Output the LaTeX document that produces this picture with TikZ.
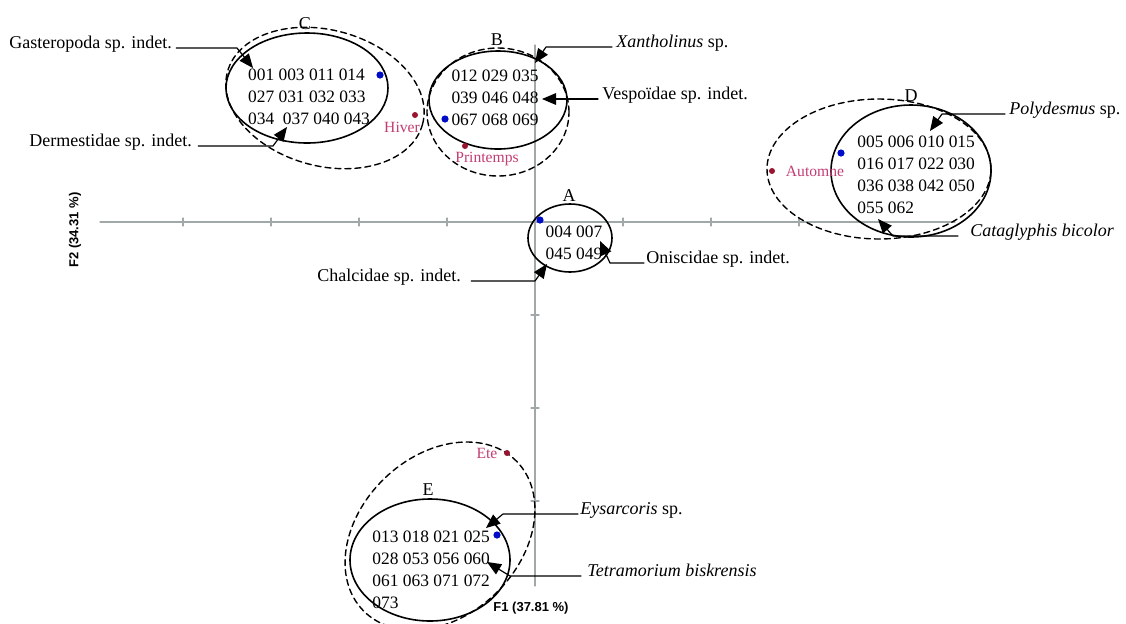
\documentclass[tikz,border=0pt]{standalone}
\usepackage{fontspec}
\setmainfont{Liberation Serif}
\setsansfont{Liberation Sans}
\usetikzlibrary{arrows}

\begin{document}
\begin{tikzpicture}[line cap=round,line join=round,>=triangle 45,x=0.5pt,y=0.5pt,
  axe/.style={color=cqcqcq,line width=0.6pt},
  grp/.style={line width=0.8pt},
  env/.style={line width=0.7pt,dash pattern=on 3pt off 2pt},
  lbl/.style={font=\fontsize{9}{10}\selectfont,inner sep=0pt},
  ids/.style={font=\fontsize{8.7}{11}\selectfont,align=left,inner sep=0pt},
  ssn/.style={font=\fontsize{7.8}{8}\selectfont,color=ccqq66,inner sep=0pt},
  axlbl/.style={font=\sffamily\bfseries\fontsize{6.5}{8}\selectfont,inner sep=0pt},
  fleche/.style={->,line width=0.6pt}]
\definecolor{cqcqcq}{rgb}{0.63,0.66,0.66}
\definecolor{qqqqcc}{rgb}{0.,0.05,0.78}
\definecolor{bfqq33}{rgb}{0.6,0.08,0.18}
\definecolor{ccqq66}{rgb}{0.76,0.24,0.45}
\useasboundingbox (0,0) rectangle (1126,-623);
% axes
\draw[axe] (100,-222) -- (955,-222);
\draw[axe] (535,-45) -- (535,-586);
\foreach \x in {183,271,359,447,623,711,799}
  \draw[axe] (\x,-218) -- (\x,-226);
\foreach \y in {315,408,501}
  \draw[axe] (531,-\y) -- (539,-\y);
\node[axlbl,rotate=90] (ftwo) at (75,-230) {F2 (34.31 \%)};
\node[axlbl] (fone) at (531,-608) {F1 (37.81 \%)};
% groupes
\draw[grp] (307,-88) ellipse (81 and 55);
\draw[env,rotate around={-15:(325,-98)}] (325,-98) ellipse (101 and 68);
\draw[grp] (498,-100) ellipse (69 and 49);
\draw[env] (498,-112) ellipse (71 and 64);
\draw[grp] (911,-171) ellipse (80 and 66);
\draw[env] (879,-169) ellipse (112 and 70);
\draw[grp] (570,-238) ellipse (42 and 34);
\draw[grp] (430,-560) ellipse (80 and 61);
\draw[env,rotate around={44:(440,-536)}] (440,-536) ellipse (107 and 80);
\node[lbl] (lettreC) at (305,-24) {C};
\node[lbl] (lettreB) at (497,-40) {B};
\node[lbl] (lettreD) at (911,-96) {D};
\node[lbl] (lettreA) at (569,-196) {A};
\node[lbl] (lettreE) at (428,-490) {E};
\node[ids] (idsC) at (309,-97) {001 003 011 014\\027 031 032 033\\034\ \ 037 040 043};
\node[ids] (idsB) at (495,-98) {012 029 035\\039 046 048\\067 068 069};
\node[ids,anchor=west] (idsD) at (857,-175) {005 006 010 015\\016 017 022 030\\036 038 042 050\\055 062};
\node[ids] (idsA) at (574,-243) {004 007\\045 049};
\node[ids,anchor=west] (idsE) at (372,-570) {013 018 021 025\\028 053 056 060\\061 063 071 072\\073};
% saisons
\fill[color=qqqqcc] (380,-75) circle (1.8pt);
\fill[color=qqqqcc] (445,-119) circle (1.8pt);
\fill[color=qqqqcc] (841,-153) circle (1.8pt);
\fill[color=qqqqcc] (540,-220) circle (1.8pt);
\fill[color=qqqqcc] (497,-535) circle (1.8pt);
\fill[color=bfqq33] (415,-115) circle (1.5pt);
\fill[color=bfqq33] (465,-146) circle (1.5pt);
\fill[color=bfqq33] (772,-171) circle (1.5pt);
\fill[color=bfqq33] (507,-453) circle (1.5pt);
\node[ssn] (hiver) at (402,-127) {Hiver};
\node[ssn] (printemps) at (487,-159) {Printemps};
\node[ssn] (automne) at (815,-171) {Automne};
\node[ssn] (ete) at (487,-453) {Ete};
% especies
\node[lbl,anchor=base west] (gastero) at (9,-48) {Gasteropoda sp. indet.};
\coordinate (gasteroC) at (237,-48);
\coordinate (gasteroT) at (253,-68);
\draw[fleche] ([xshift=2pt]gastero.base east) -- (gasteroC) -- (gasteroT);
\node[lbl,anchor=base west] (dermest) at (29,-146) {Dermestidae sp. indet.};
\coordinate (dermestC) at (273,-146);
\coordinate (dermestT) at (287,-127);
\draw[fleche] ([xshift=3pt]dermest.base east) -- (dermestC) -- (dermestT);
\node[lbl,anchor=base west] (xantho) at (616,-47) {\textit{Xantholinus} sp.};
\coordinate (xanthoC) at (546,-47);
\coordinate (xanthoT) at (535,-63);
\draw[fleche] ([xshift=-2pt]xantho.base west) -- (xanthoC) -- (xanthoT);
\node[lbl,anchor=base west] (vespo) at (602,-99) {Vespoïdae sp. indet.};
\coordinate (vespoT) at (542,-99);
\draw[fleche] ([xshift=-2pt]vespo.base west) -- (vespoT);
\node[lbl,anchor=base west] (polydes) at (1009,-114) {\textit{Polydesmus} sp.};
\coordinate (polydesC) at (942,-114);
\coordinate (polydesT) at (930,-131);
\draw[fleche] ([xshift=-2pt]polydes.base west) -- (polydesC) -- (polydesT);
\node[lbl,anchor=base west] (catagl) at (970,-236) {\textit{Cataglyphis bicolor}};
\coordinate (cataglC) at (893,-236);
\coordinate (cataglT) at (878,-219);
\draw[fleche] ([xshift=-6pt]catagl.base west) -- (cataglC) -- (cataglT);
\node[lbl,anchor=base west] (onisc) at (646,-263) {Oniscidae sp. indet.};
\coordinate (oniscC) at (610,-263);
\coordinate (oniscT) at (600,-241);
\draw[fleche] ([xshift=-1pt]onisc.base west) -- (oniscC) -- (oniscT);
\node[lbl,anchor=base west] (chalc) at (317,-281) {Chalcidae sp. indet.};
\coordinate (chalcC) at (535,-281);
\coordinate (chalcT) at (547,-264);
\draw[fleche] ([xshift=5pt]chalc.base east) -- (chalcC) -- (chalcT);
\node[lbl,anchor=base west] (eysarc) at (580,-514) {\textit{Eysarcoris} sp.};
\coordinate (eysarcC) at (503,-514);
\coordinate (eysarcT) at (486,-528);
\draw[fleche] ([xshift=-1pt]eysarc.base west) -- (eysarcC) -- (eysarcT);
\node[lbl,anchor=base west] (tetram) at (587,-576) {\textit{Tetramorium biskrensis}};
\coordinate (tetramC) at (510,-576);
\coordinate (tetramT) at (487,-562);
\draw[fleche] ([xshift=-3pt]tetram.base west) -- (tetramC) -- (tetramT);
\end{tikzpicture}
\end{document}
